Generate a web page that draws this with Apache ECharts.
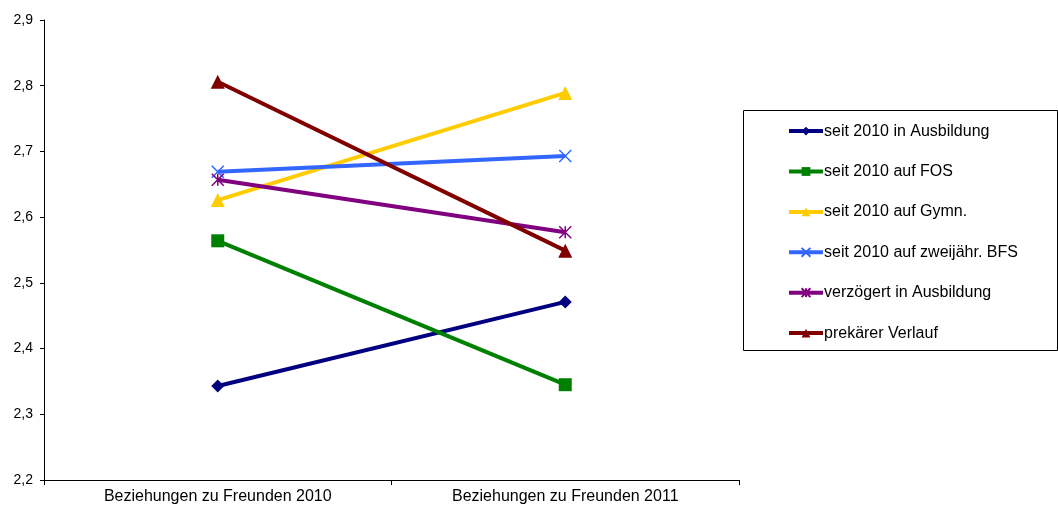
<!DOCTYPE html>
<html>
<head>
<meta charset="utf-8">
<script src="https://cdn.jsdelivr.net/npm/echarts@6/dist/echarts.min.js"></script>
<style>
  html, body { margin: 0; padding: 0; background: #fff; }
  #chart { width: 1058px; height: 508px; }
</style>
</head>
<body>
<div id="chart"></div>
<script>
// Categories along the x axis
const categories = ['Beziehungen zu Freunden 2010', 'Beziehungen zu Freunden 2011'];

// Mean scores per group
const seriesNames = [
  'seit 2010 in Ausbildung',
  'seit 2010 auf FOS',
  'seit 2010 auf Gymn.',
  'seit 2010 auf zweijähr. BFS',
  'verzögert in Ausbildung',
  'prekärer Verlauf'
];
const ausbildung = [2.343, 2.471];
const fos = [2.564, 2.345];
const gymn = [2.626, 2.789];
const bfs = [2.669, 2.693];
const verzoegert = [2.657, 2.577];
const prekaer = [2.806, 2.549];

const values = [ausbildung, fos, gymn, bfs, verzoegert, prekaer];
const colors = ['#000080', '#008000', '#FFCC00', '#3366FF', '#800080', '#800000'];

const crossPath = 'path://M0,0L10,10M10,0L0,10';
const starPath = 'path://M0,0L10,10M10,0L0,10M5,0L5,10';

const symbols = [
  { symbol: 'diamond', size: 13, stroke: false },
  { symbol: 'rect', size: 13, stroke: false },
  { symbol: 'triangle', size: 14, stroke: false },
  { symbol: crossPath, size: 12, stroke: true },
  { symbol: starPath, size: 12, stroke: true },
  { symbol: 'triangle', size: 14, stroke: false }
];

const series = seriesNames.map((name, i) => {
  const s = symbols[i];
  return {
    name: name,
    type: 'line',
    data: values[i],
    symbol: s.symbol,
    symbolSize: s.size,
    showAllSymbol: true,
    lineStyle: { color: colors[i], width: 4 },
    itemStyle: s.stroke
      ? { color: 'rgba(0,0,0,0)', borderColor: colors[i], borderWidth: 1.5 }
      : { color: colors[i], borderWidth: 0 },
    emphasis: { disabled: true },
    z: 2 + i
  };
});

const fontFamily = 'Liberation Sans, Arial, sans-serif';

const chart = echarts.init(document.getElementById('chart'), null, { renderer: 'canvas' });
chart.setOption({
  animation: false,
  backgroundColor: '#ffffff',
  textStyle: { fontFamily: fontFamily },
  grid: { left: 44, right: 319, top: 20, bottom: 28 },
  xAxis: {
    type: 'category',
    data: categories,
    boundaryGap: true,
    axisLine: { lineStyle: { color: '#000', width: 1 } },
    axisTick: { show: true, inside: false, length: 5, lineStyle: { color: '#000' } },
    axisLabel: { color: '#000', fontSize: 16, margin: 9, fontFamily: fontFamily },
    splitLine: { show: false }
  },
  yAxis: {
    type: 'value',
    min: 2.2,
    max: 2.9,
    interval: 0.1,
    axisLine: { show: true, lineStyle: { color: '#000', width: 1 } },
    axisTick: { show: true, inside: false, length: 4, lineStyle: { color: '#000' } },
    axisLabel: {
      color: '#000',
      fontSize: 14,
      margin: 11,
      fontFamily: fontFamily,
      formatter: v => v.toFixed(1).replace('.', ',')
    },
    splitLine: { show: false }
  },
  legend: {
    orient: 'vertical',
    left: 787,
    top: 123,
    itemWidth: 34,
    itemHeight: 11,
    itemGap: 24.2,
    padding: 0,
    lineStyle: { width: 4 },
    textStyle: {
      color: '#000',
      fontSize: 16,
      lineHeight: 16.2,
      fontFamily: fontFamily,
      padding: [0, 0, 0, -4]
    },
    data: seriesNames
  },
  graphic: [{
    type: 'rect',
    shape: { x: 743.5, y: 110.5, width: 314, height: 240 },
    style: { fill: 'none', stroke: '#000', lineWidth: 1 },
    silent: true,
    z: 0
  }],
  series: series
});
</script>
</body>
</html>
